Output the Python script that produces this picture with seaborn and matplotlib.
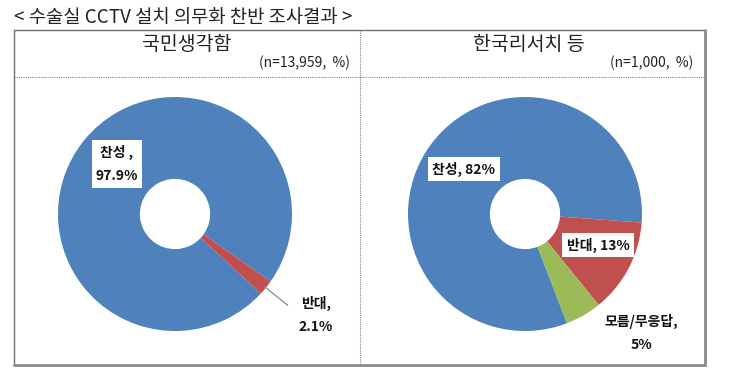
import matplotlib
matplotlib.use("Agg")
import matplotlib.pyplot as plt
import seaborn as sns
import numpy as np

sns.set_theme(style="white")
plt.rcParams['font.family'] = ['Noto Sans CJK KR', 'DejaVu Sans']

# ---- data ----
title = "< 수술실 CCTV 설치 의무화 찬반 조사결과 >"
panel_titles = ["국민생각함", "한국리서치 등"]
panel_notes = ["(n=13,959,  %)", "(n=1,000,  %)"]

cats1 = ["찬성", "반대"]
vals1 = [97.9, 2.1]
cats2 = ["찬성", "반대", "모름/무응답"]
vals2 = [82, 13, 5]

colors = ["#4F81BD", "#C0504D", "#9BBB59"]

W, H = 734, 378
fig = plt.figure(figsize=(W / 100, H / 100), dpi=100)
fig.patch.set_facecolor("white")


def pie_axes(cx, cy, r):
    ax = fig.add_axes([(cx - r) / W, (H - (cy + r)) / H, 2 * r / W, 2 * r / H])
    return ax


# pie 1
ax1 = pie_axes(175, 214, 117)
ax1.pie(vals1, colors=colors[:len(vals1)], startangle=-42.8, counterclock=False,
        wedgeprops=dict(width=0.70, edgecolor="none"))
ax1.set_xlim(-1, 1); ax1.set_ylim(-1, 1); ax1.set_aspect("auto"); ax1.axis("off")

# leader line for 반대 in pie 1
ang = np.deg2rad(-42.8 + vals1[1] / 100 * 360 / 2)
ax1.plot([0.98 * np.cos(ang), 1.24 * np.cos(ang)],
         [0.98 * np.sin(ang), 1.24 * np.sin(ang)], color="#8c8c8c", lw=0.9,
         clip_on=False)

# pie 2
ax2 = pie_axes(525, 214, 117)
ax2.pie(vals2, colors=colors[:len(vals2)], startangle=-69, counterclock=False,
        wedgeprops=dict(width=0.70, edgecolor="none"))
ax2.set_xlim(-1, 1); ax2.set_ylim(-1, 1); ax2.set_aspect("auto"); ax2.axis("off")

# overlay in pixel coordinates
ov = fig.add_axes([0, 0, 1, 1], zorder=10)
ov.set_xlim(0, W); ov.set_ylim(H, 0); ov.axis("off")
ov.patch.set_alpha(0)

ov.text(14, 17, title, fontsize=13.5, va="center", ha="left", color="#222222")

# frame
L, T, R, B = 14, 30, 705, 365
ov.plot([L, R], [T, T], color="#707070", lw=1.0)
ov.plot([L, L], [T, B], color="#707070", lw=1.0)
ov.plot([R, R], [T, B], color="#8a8a8a", lw=2.0)
ov.plot([L, R], [B, B], color="#8a8a8a", lw=2.0)
ov.plot([360, 360], [T, B], color="#808080", lw=0.8, ls=(0, (1, 1)))
ov.plot([L, R], [77, 77], color="#808080", lw=0.8, ls=(0, (1, 1)))

ov.text(187, 45, panel_titles[0], fontsize=14, ha="center", va="center", color="#222222")
ov.text(350, 63, panel_notes[0], fontsize=10, ha="right", va="center", color="#222222")
ov.text(529, 45, panel_titles[1], fontsize=14, ha="center", va="center", color="#222222")
ov.text(693, 63, panel_notes[1], fontsize=10, ha="right", va="center", color="#222222")

box = dict(boxstyle="square,pad=0.3", facecolor="white", edgecolor="none")
lab_kw = dict(fontsize=10, fontweight="bold", ha="center", va="center", color="#111111")

ov.text(117, 164, f"{cats1[0]} ,\n{vals1[0]}%", linespacing=1.9, bbox=box, **lab_kw)
ov.text(316, 315, f"{cats1[1]},\n{vals1[1]}%", linespacing=1.9, **lab_kw)

ov.text(464, 169, f"{cats2[0]}, {vals2[0]}%", bbox=box, **lab_kw)
ov.text(598, 245, f"{cats2[1]}, {vals2[1]}%", bbox=box, **lab_kw)
ov.text(641, 333, f"{cats2[2]},\n{vals2[2]}%", linespacing=1.9, **lab_kw)

fig.savefig("out.png", dpi=100, facecolor="white")
